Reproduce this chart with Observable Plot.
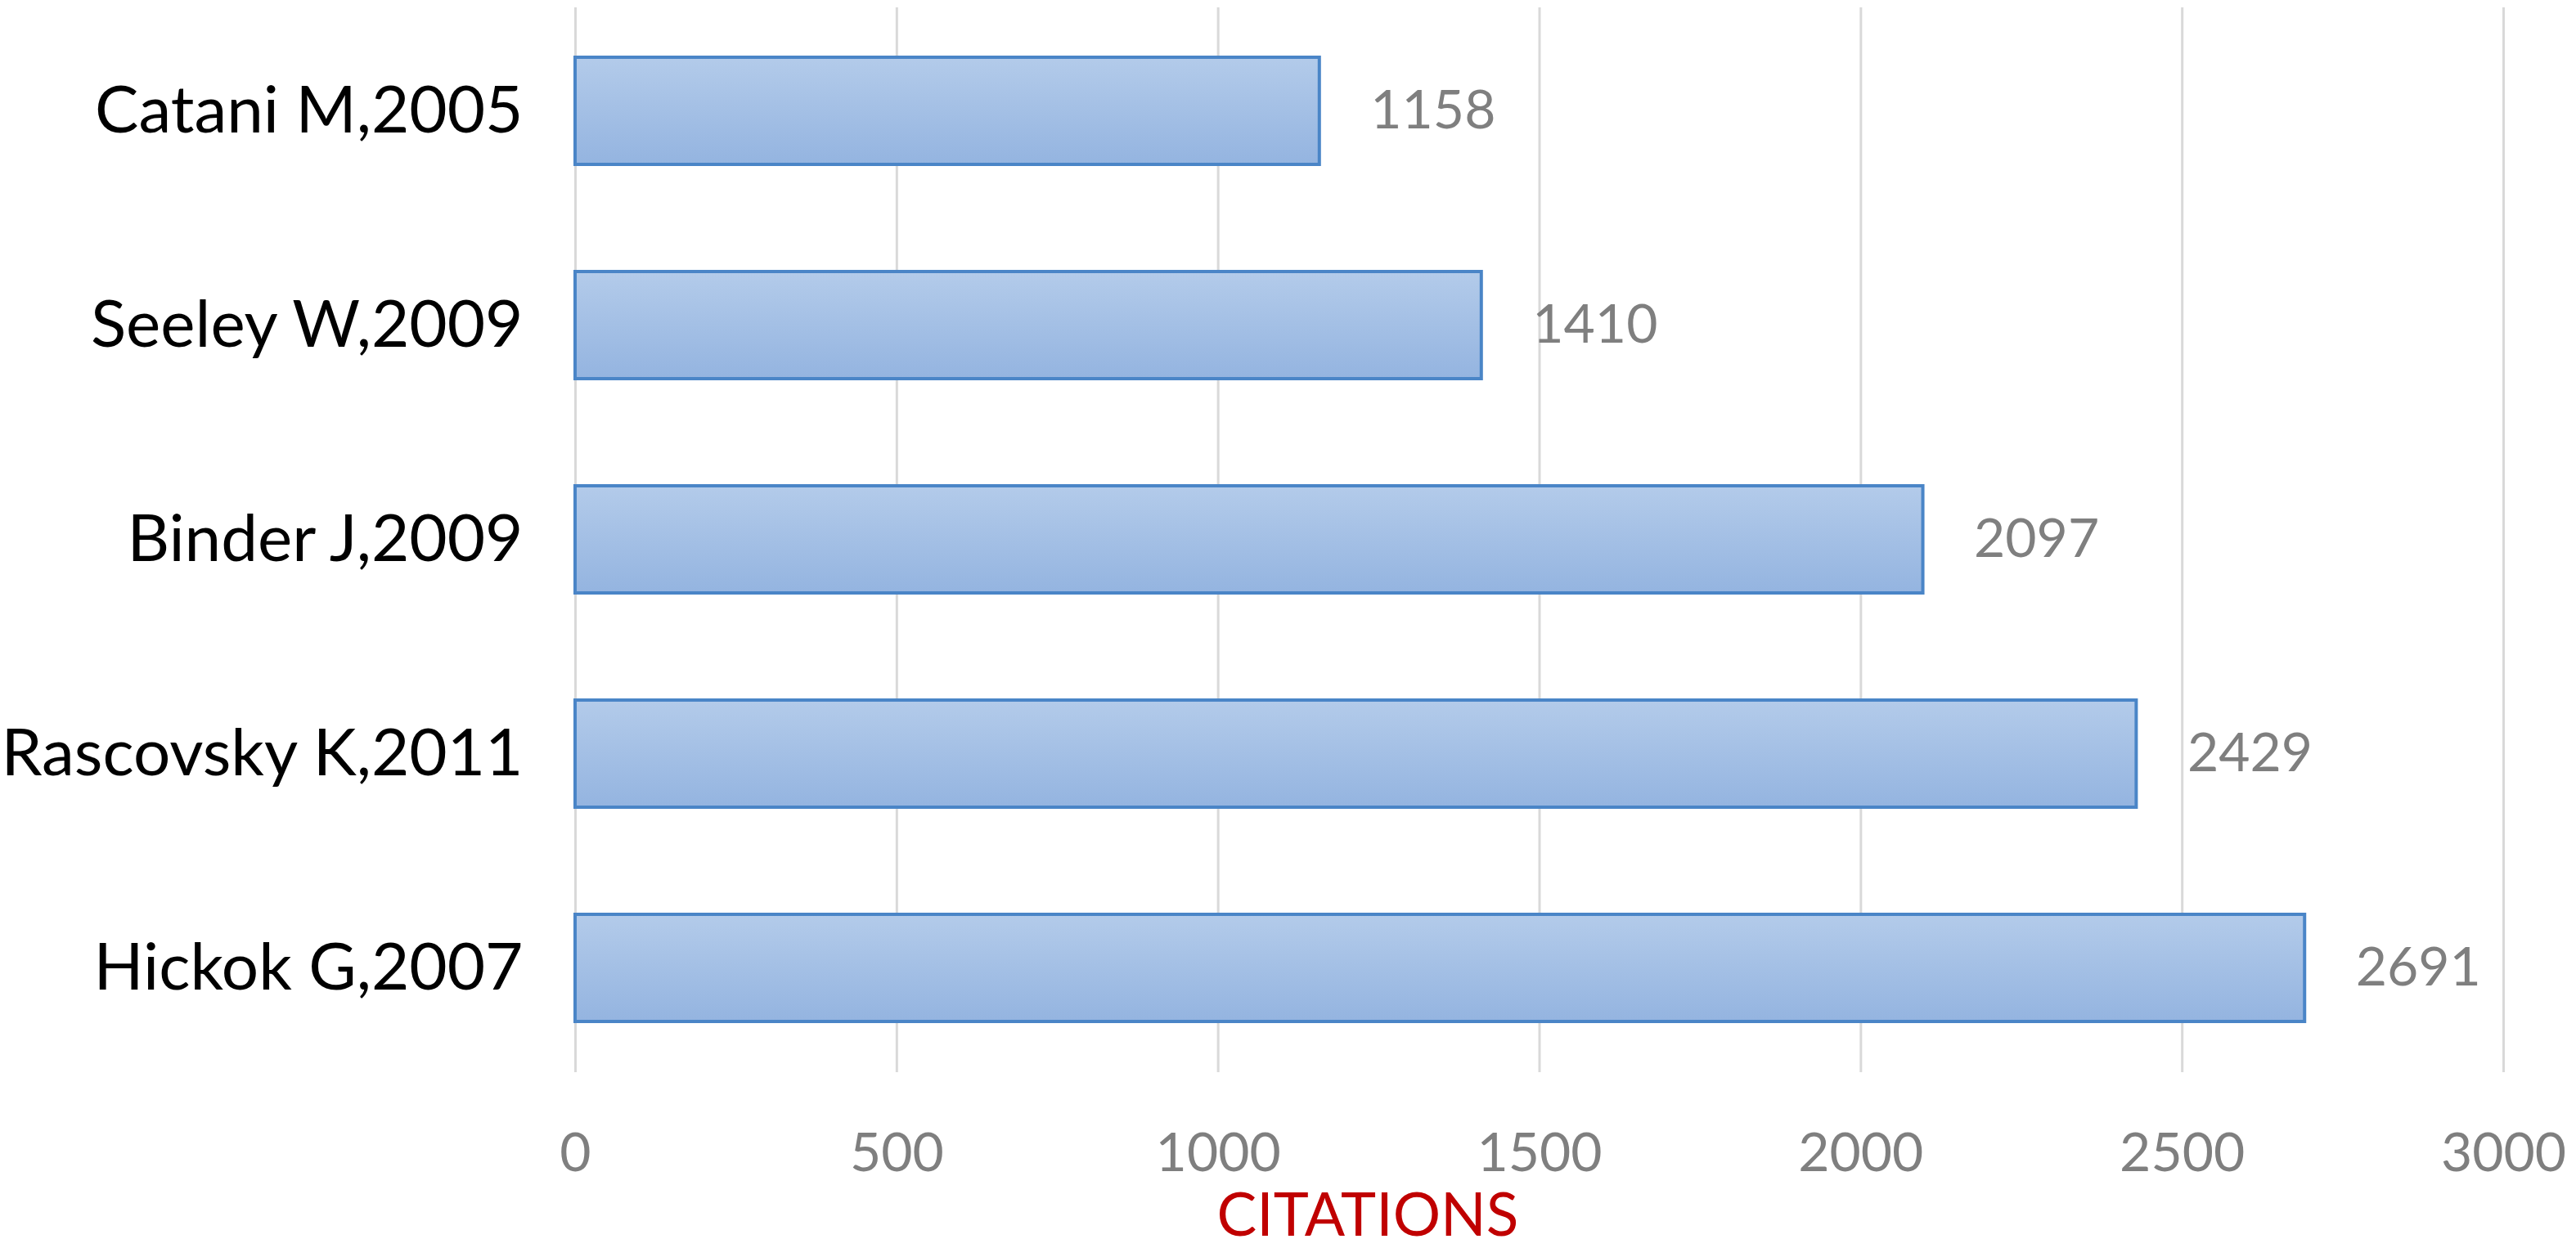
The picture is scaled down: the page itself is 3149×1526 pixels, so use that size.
<!DOCTYPE html>
<html>
<head>
<meta charset="utf-8">
<script src="https://cdn.jsdelivr.net/npm/d3@7"></script>
<script src="https://cdn.jsdelivr.net/npm/@observablehq/plot@0.6"></script>
<style>
  html, body { margin: 0; padding: 0; background: #ffffff; }
  #chart svg { display: block; background: #ffffff; }
</style>
</head>
<body>
<div id="chart"></div>
<script>
// ---- data ----
const authors = ["Catani M,2005", "Seeley W,2009", "Binder J,2009", "Rascovsky K,2011", "Hickok G,2007"];
const citations = [1158, 1410, 2097, 2429, 2691];
const xTicks = [0, 500, 1000, 1500, 2000, 2500, 3000];
const xTitle = "CITATIONS";

const rows = authors.map((a, i) => ({author: a, value: citations[i]}));

const NS = "http://www.w3.org/2000/svg";
function gradientDefs() {
  const defs = document.createElementNS(NS, "defs");
  const g = document.createElementNS(NS, "linearGradient");
  g.setAttribute("id", "barGrad");
  g.setAttribute("x1", "0"); g.setAttribute("y1", "0");
  g.setAttribute("x2", "0"); g.setAttribute("y2", "1");
  [["0%", "#b3cbea"], ["100%", "#94b4e0"]].forEach(([o, c]) => {
    const s = document.createElementNS(NS, "stop");
    s.setAttribute("offset", o);
    s.setAttribute("stop-color", c);
    g.appendChild(s);
  });
  defs.appendChild(g);
  return defs;
}

const chart = Plot.plot({
  width: 3149,
  height: 1526,
  marginLeft: 703,
  marginRight: 89,
  marginTop: 4,
  marginBottom: 211,
  style: {fontFamily: "Lato, 'Open Sans', sans-serif", background: "#ffffff"},
  x: {domain: [0, 3000]},
  y: {domain: authors, paddingInner: 0.5, paddingOuter: 0.25},
  marks: [
    gradientDefs,
    Plot.gridX(xTicks, {stroke: "#d9d9d9", strokeOpacity: 1, strokeWidth: 3, insetTop: 5, insetBottom: 4}),
    Plot.barX(rows, {
      x1: 0, x2: "value", y: "author",
      fill: "url(#barGrad)", stroke: "#4a85c7", strokeWidth: 4
    }),
    Plot.text(rows, {
      x: "value", y: "author", text: d => String(d.value),
      textAnchor: "start", dx: 62, fontSize: 66, fill: "#7f7f7f", lineAnchor: "middle"
    }),
    Plot.axisX(xTicks, {
      tickSize: 0, tickPadding: 70, fontSize: 66, color: "#7f7f7f", fill: "#7f7f7f",
      tickFormat: d => String(d), label: null
    }),
    Plot.axisY({
      tickSize: 0, tickPadding: 64, fontSize: 80, fill: "#000000", label: null
    }),
    Plot.text([xTitle], {
      frameAnchor: "bottom", text: d => d, dx: -210, dy: 172,
      lineAnchor: "middle", textAnchor: "middle", fontSize: 73, fill: "#c00000"
    })
  ]
});
document.getElementById("chart").appendChild(chart);
</script>
</body>
</html>
